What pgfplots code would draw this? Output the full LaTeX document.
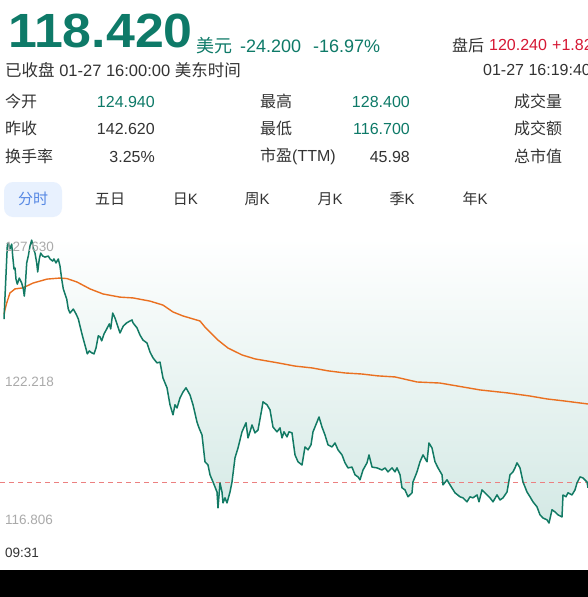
\documentclass[border=0pt]{standalone}
\usepackage{pgfplots}
\pgfplotsset{compat=1.18}
\usepackage{pgfplotstable}
\usepackage{fontspec}
\setmainfont{Liberation Sans}
\newfontfamily\cjk{Noto Sans CJK SC}
\newcommand\fs[1]{\fontsize{#1}{#1}\selectfont}

\definecolor{upgreen}{RGB}{14,122,104}
\definecolor{linegreen}{RGB}{18,122,100}
\definecolor{avgorange}{RGB}{234,112,32}
\definecolor{txtdark}{RGB}{51,51,51}
\definecolor{txtgray}{RGB}{170,170,170}
\definecolor{redtxt}{RGB}{214,24,52}
\definecolor{dashred}{RGB}{236,128,128}
\definecolor{btnbg}{RGB}{232,241,254}
\definecolor{btntxt}{RGB}{86,136,228}
\definecolor{fillteal}{RGB}{212,233,229}

% x = horizontal position along the session (pixels of the chart), y = price
\pgfplotstableread{
x y
4 124.57
7.3 127.33
8.3 127.45
10 127.22
11.7 127.40
12.7 126.95
14 126.46
15 126.50
16 126.08
17.3 125.89
19.3 126.12
21.7 125.93
23.3 125.71
24.3 125.44
25.3 125.82
26.7 126.69
28.3 126.95
30 127.33
31.7 127.55
33.3 127.25
35 127.06
36.7 126.69
37.7 126.35
39.3 126.84
40.7 127.06
42.7 126.95
45 126.91
48.3 126.95
50 126.84
52.7 126.76
54 126.84
56 126.69
58.3 126.84
60 126.57
61.7 126.08
63.3 125.71
66.7 125.33
68.3 124.95
70 124.80
73.3 124.95
76 124.77
78.3 124.58
80 124.31
81.7 124.05
83.3 123.82
86 123.45
87.3 123.26
89.3 123.37
91.7 123.30
94 123.26
96 123.48
98.3 123.94
100 123.90
101.7 123.75
104 124.01
106.7 124.20
109.3 124.39
110.7 124.20
112.7 124.80
115 124.61
118.3 124.24
120 124.05
123.3 124.31
126.7 124.43
130 124.50
132 124.54
133 124.43
137 124.24
140 123.97
143 123.78
147 123.67
150 123.33
153 123.11
157 122.92
160 122.95
163 122.35
167 121.98
170 121.34
173 120.96
175 121.34
177 121.22
180 121.60
183 121.82
186 121.98
190 121.71
193 121.34
197 120.69
199 120.47
202 120.20
205 119.19
208 119.07
210 118.70
213 118.43
217 118.05
218 117.45
220 118.39
222 118.05
223 117.64
225 117.83
227 117.64
230 118.05
232 118.43
235 119.34
238 119.71
242 120.32
246 120.66
248 120.09
250 120.32
252 120.58
255 120.28
258 120.39
262 121.22
263 121.45
267 121.34
270 121.15
273 120.50
277 120.32
280 120.47
282 120.09
284 120.32
287 120.13
289 120.32
292 120.28
295 119.45
298 119.19
302 119.07
305 119.75
308 119.64
311 119.83
313 120.32
317 120.69
319 120.88
322 120.50
325 120.20
328 119.83
332 119.75
335 119.90
338 119.64
342 119.45
345 119.15
348 118.96
352 118.99
355 118.70
358 118.62
360 118.51
363 118.88
367 119.15
369 119.45
372 118.99
377 118.96
382 118.88
385 118.96
388 118.81
392 118.96
395 118.81
397 118.96
400 118.70
402 118.21
405 118.13
408 117.87
412 118.02
413 118.43
417 118.81
420 119.19
423 119.45
427 119.19
429 119.90
432 119.71
435 119.19
438 118.96
442 118.70
443 118.32
447 118.51
450 118.32
455 118.02
460 117.87
463 117.83
467 117.68
470 117.87
473 117.83
477 117.94
479 117.68
482 118.13
487 117.94
490 117.83
493 117.68
497 117.94
500 117.75
503 117.83
507 118.05
510 118.70
513 118.81
515 118.96
517 119.15
520 118.96
523 118.43
527 118.05
530 117.87
533 117.68
537 117.49
540 117.19
543 117.07
547 117.00
549 116.88
552 117.38
555 117.30
558 117.19
562 117.11
563 117.94
566 117.87
568 118.02
572 117.94
575 118.13
577 118.39
580 118.62
583 118.58
587 118.43
588 118.21
}\pricetable

\pgfplotstableread{
x y
4 124.77
6.7 125.18
10 125.56
15 125.71
23 125.75
33 125.93
47 126.08
60 126.12
67 126.10
77 125.97
90 125.71
103 125.52
120 125.40
133 125.37
150 125.25
163 125.10
173 124.84
183 124.69
200 124.50
205 124.27
218 123.78
228 123.48
242 123.22
255 123.07
278 122.92
295 122.80
312 122.73
328 122.62
345 122.54
362 122.50
378 122.43
395 122.39
417 122.20
440 122.16
457 122.05
480 121.90
507 121.79
530 121.67
547 121.56
563 121.49
588 121.37
}\avgtable

\begin{document}
\begin{tikzpicture}
\useasboundingbox (0pt,0pt) rectangle (588pt,-597pt);
\clip (0pt,0pt) rectangle (588pt,-597pt);
\fill[white] (0pt,0pt) rectangle (588pt,-597pt);

\begin{axis}[
  at={(0pt,-238pt)}, anchor=north west,
  width=588pt, height=287pt, scale only axis,
  xmin=0, xmax=588, ymin=116.806, ymax=127.630,
  axis lines=none, xtick=\empty, ytick=\empty, clip=true]
  \addplot[draw=none, top color=white, bottom color=fillteal] table[x=x,y=y] {\pricetable}
     -- (axis cs:588,127.630) -- (axis cs:4,127.630) -- cycle;
  \addplot[dashred, line width=1pt, dash pattern=on 5pt off 4pt] coordinates {(0,118.42) (588,118.42)};
  \addplot[avgorange, line width=1.4pt] table[x=x,y=y] {\avgtable};
  \addplot[linegreen, line width=1.5pt, line join=round] table[x=x,y=y] {\pricetable};
\end{axis}

\begin{scope}[x=1pt,y=-1pt, every node/.style={inner sep=0pt}]
  % header
  \node[anchor=base west, text=upgreen] at (8,47) {\fs{48}\bfseries\scalebox{1.08}[1]{118.420}};
  \node[anchor=west, text=upgreen] at (196,46) {\cjk\fs{18}美元};
  \node[anchor=west, text=upgreen] at (240,46) {\fs{18}-24.200};
  \node[anchor=west, text=upgreen] at (313,46) {\fs{18}-16.97\%};
  \node[anchor=west, text=txtdark] at (452,45) {\cjk\fs{16}盘后};
  \node[anchor=west, text=redtxt] at (489,45) {\fs{16}120.240};
  \node[anchor=west, text=redtxt] at (552,45) {\fs{16}+1.820};
  \node[anchor=west, text=txtdark] at (5,70) {\fs{16.5}{\cjk 已收盘} 01-27 16:00:00 {\cjk 美东时间}};
  \node[anchor=west, text=txtdark] at (483,70) {\fs{16}01-27 16:19:40};
  % stats
  \node[anchor=west, text=txtdark] at (5,101.5) {\cjk\fs{16}今开};
  \node[anchor=west, text=txtdark] at (5,128.5) {\cjk\fs{16}昨收};
  \node[anchor=west, text=txtdark] at (5,156.5) {\cjk\fs{16}换手率};
  \node[anchor=east, text=upgreen] at (155,101.5) {\fs{16}124.940};
  \node[anchor=east, text=txtdark] at (155,128.5) {\fs{16}142.620};
  \node[anchor=east, text=txtdark] at (155,156.5) {\fs{16}3.25\%};
  \node[anchor=west, text=txtdark] at (260,101.5) {\cjk\fs{16}最高};
  \node[anchor=west, text=txtdark] at (260,128.5) {\cjk\fs{16}最低};
  \node[anchor=west, text=txtdark] at (260,156.5) {\fs{16}{\cjk 市盈}(TTM)};
  \node[anchor=east, text=upgreen] at (410,101.5) {\fs{16}128.400};
  \node[anchor=east, text=upgreen] at (410,128.5) {\fs{16}116.700};
  \node[anchor=east, text=txtdark] at (410,156.5) {\fs{16}45.98};
  \node[anchor=west, text=txtdark] at (514,101.5) {\cjk\fs{16}成交量};
  \node[anchor=west, text=txtdark] at (514,128.5) {\cjk\fs{16}成交额};
  \node[anchor=west, text=txtdark] at (514,156.5) {\cjk\fs{16}总市值};
  % tabs
  \fill[btnbg, rounded corners=9pt] (4,182) rectangle (62,217);
  \node[text=btntxt] at (33,199) {\cjk\fs{15}分时};
  \node[text=txtdark] at (110,199) {\cjk\fs{15}五日};
  \node[text=txtdark] at (185.5,199) {\fs{15}{\cjk 日}K};
  \node[text=txtdark] at (257,199) {\fs{15}{\cjk 周}K};
  \node[text=txtdark] at (330,199) {\fs{15}{\cjk 月}K};
  \node[text=txtdark] at (402,199) {\fs{15}{\cjk 季}K};
  \node[text=txtdark] at (475,199) {\fs{15}{\cjk 年}K};
  % y labels
  \node[anchor=west, text=txtgray] at (5,246.7) {\fs{13.5}127.630};
  \node[anchor=west, text=txtgray] at (5,381.7) {\fs{13.5}122.218};
  \node[anchor=west, text=txtgray] at (5,520) {\fs{13.5}116.806};
  \node[anchor=west, text=txtdark] at (5,553) {\fs{13.5}09:31};
  % bottom band
  \fill[black] (0,570) rectangle (588,597);
\end{scope}
\end{tikzpicture}
\end{document}
